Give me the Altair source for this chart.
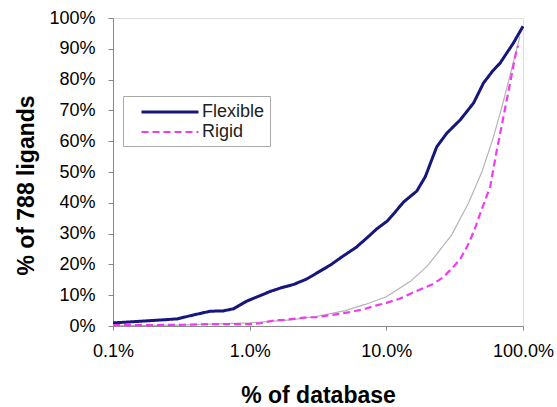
import altair as alt
import pandas as pd

# Flexible series (x = % of database, y = % of 788 ligands)
flex_x = [0.1, 0.167, 0.294, 0.389, 0.515, 0.64, 0.762, 0.955, 1.2, 1.41, 1.7, 2.1, 2.6, 3.1, 3.9,
          4.86, 6.0, 7.21, 8.5, 10.1, 11.5, 13.4, 16.7, 19.3, 21.5, 23.4, 27.7, 34.7, 43.5, 51.4,
          60.0, 68.1, 76.0, 85.2, 92.0, 100.0]
flex_y = [1.0, 1.6, 2.3, 3.6, 4.8, 4.9, 5.6, 8.1, 9.9, 11.2, 12.4, 13.5, 15.2, 17.2, 19.8,
          22.8, 25.5, 28.6, 31.5, 34.0, 36.8, 40.3, 43.8, 48.5, 54.0, 58.2, 62.6, 66.9, 72.4, 78.9,
          82.8, 85.4, 88.6, 91.9, 94.5, 97.3]

# Rigid series
rigid_x = [0.1, 0.2, 0.33, 0.5, 0.7, 1.0, 1.2, 1.5, 1.77, 2.6, 3.1, 4.0, 5.45, 7.0, 8.5, 10.0,
           12.6, 15.0, 18.0, 22.1, 26.0, 31.0, 35.0, 38.9, 44.0, 48.6, 53.0, 57.5, 64.4, 72.0,
           80.5, 87.7, 92.0]
rigid_y = [0.3, 0.3, 0.4, 0.6, 0.6, 0.6, 0.9, 1.8, 2.0, 2.8, 2.9, 3.6, 4.5, 5.6, 6.7, 7.5,
           8.9, 10.5, 12.0, 13.7, 15.8, 19.2, 22.0, 25.7, 31.0, 36.5, 41.0, 45.2, 57.2, 68.0,
           78.9, 87.6, 91.0]

# Thin grey reference curve
ref_x = [0.1, 0.3, 1, 2, 3, 5, 7, 10, 15, 20, 30, 40, 50, 60, 70, 80, 90, 95]
ref_y = [0.1, 0.3, 1, 2, 3, 5, 7, 9.5, 14.5, 19.5, 29.5, 40, 50, 60.5, 71, 81, 90, 94]

series_names = ["Flexible", "Rigid"]
x_ticks = [0.1, 1, 10, 100]
y_ticks = [0, 10, 20, 30, 40, 50, 60, 70, 80, 90, 100]

df = pd.concat([
    pd.DataFrame({"x": flex_x, "y": flex_y, "series": "Flexible", "order": range(len(flex_x))}),
    pd.DataFrame({"x": rigid_x, "y": rigid_y, "series": "Rigid", "order": range(len(rigid_x))}),
])
ref = pd.DataFrame({"x": ref_x, "y": ref_y, "order": range(len(ref_x))})

FONT = "Liberation Sans"

xenc = alt.X("x:Q", scale=alt.Scale(type="log", domain=[0.1, 100], nice=False),
             axis=alt.Axis(title="% of database", values=x_ticks,
                           labelExpr="format(datum.value, '.1f') + '%'",
                           grid=False, tickSize=4, labelPadding=12, labelFontSize=18,
                           titleFontSize=23, titleFontWeight="bold",
                           titleBaseline="alphabetic", titleY=76, labelFlush=False))
yenc = alt.Y("y:Q", scale=alt.Scale(domain=[0, 100], nice=False),
             axis=alt.Axis(title="% of 788 ligands", values=y_ticks,
                           labelExpr="datum.value + '%'",
                           grid=False, tickSize=5, labelPadding=13, labelFontSize=18,
                           titleFontSize=23, titleFontWeight="bold",
                           titleX=-87, titleY=167, titleBaseline="middle"))

ref_line = alt.Chart(ref).mark_line(color="#b4b4b4", strokeWidth=1.2).encode(
    x=xenc, y=yenc, order="order:Q")

lines = alt.Chart(df).mark_line().encode(
    x=xenc, y=yenc, order="order:Q",
    color=alt.Color("series:N",
                    scale=alt.Scale(domain=series_names, range=["#16167c", "#f03cf0"]),
                    legend=alt.Legend(title=None, orient="none", legendX=10, legendY=78,
                                      symbolType="M-3,0H3", symbolSize=361, symbolStrokeWidth=3,
                                      symbolOffset=31,
                                      labelFontSize=18, labelFont=FONT, labelColor="#222",
                                      padding=5, rowPadding=0, labelOffset=21,
                                      fillColor="white", strokeColor="#aaaaaa")),
    strokeDash=alt.StrokeDash("series:N",
                              scale=alt.Scale(domain=series_names, range=[[1, 0], [7, 4]]),
                              legend=alt.Legend(title=None)),
    strokeWidth=alt.StrokeWidth("series:N",
                                scale=alt.Scale(domain=series_names, range=[3, 2.2]),
                                legend=None),
)

chart = (ref_line + lines).properties(
    width=410, height=308,
    autosize=alt.AutoSizeParams(type="none"),
    padding={"left": 113, "top": 18, "right": 34, "bottom": 81},
).configure_view(stroke="#999999", strokeWidth=1.2).configure_axis(
    domainColor="#999999", tickColor="#999999", labelColor="#222222", titleColor="#111111",
    labelFont=FONT, titleFont=FONT,
).configure(background="white")

chart.save("out.html", embed_options={"renderer": "svg", "actions": False})
